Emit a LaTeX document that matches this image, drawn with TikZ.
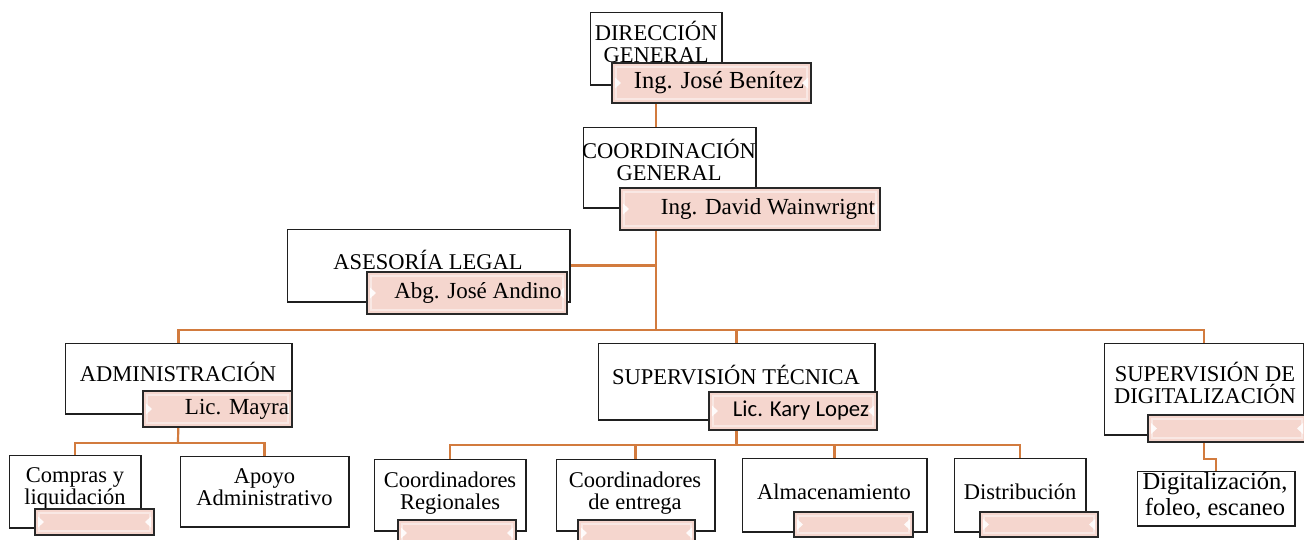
\documentclass[tikz,border=0pt]{standalone}
\usepackage{fontspec}
\setmainfont{Liberation Serif}
\newfontfamily\calibfont{Carlito}
\usetikzlibrary{calc}
\definecolor{link}{RGB}{210,123,62}
\definecolor{platefill}{RGB}{245,214,206}
\definecolor{plateedge}{RGB}{40,40,40}
\tikzset{
  conn/.style={draw=link,line width=2.2pt},
  unitbox/.style={draw=black!88,line width=1.5pt,fill=white,inner sep=0pt},
  plate/.style={draw=plateedge,line width=1.6pt,fill=platefill,inner sep=0pt,
    path picture={
      \draw[white,opacity=.45,line width=2.2pt]
        ([shift={(4pt,-4pt)}]path picture bounding box.north west) rectangle
        ([shift={(-4pt,4pt)}]path picture bounding box.south east);
      \fill[white,opacity=.9]
        ([shift={(3pt,5.5pt)}]path picture bounding box.west) --
        ([shift={(9pt,0pt)}]path picture bounding box.west) --
        ([shift={(3pt,-5.5pt)}]path picture bounding box.west) -- cycle;
      \fill[white,opacity=.9]
        ([shift={(-3pt,5.5pt)}]path picture bounding box.east) --
        ([shift={(-9pt,0pt)}]path picture bounding box.east) --
        ([shift={(-3pt,-5.5pt)}]path picture bounding box.east) -- cycle;
    }},
  ttl/.style={inner sep=0pt,align=center,font=\fontsize{22.5}{22}\selectfont},
  nm/.style={inner sep=0pt,font=\fontsize{23}{23}\selectfont},
}
\begin{document}
\begin{tikzpicture}[x=1pt,y=-1pt]
\useasboundingbox (0,0) rectangle (1304,539);

% ---------- unit frames ----------
\node[unitbox,minimum width=130pt,minimum height=71pt] (dg)   at (656,48.5) {};
\node[unitbox,minimum width=171pt,minimum height=79pt] (cg)   at (669.5,167.5) {};
\node[unitbox,minimum width=281pt,minimum height=71pt] (al)   at (428.5,265.5) {};
\node[unitbox,minimum width=225pt,minimum height=69pt] (adm)  at (178.5,378.5) {};
\node[unitbox,minimum width=275pt,minimum height=75pt] (st)   at (736.5,381.5) {};
\node[unitbox,minimum width=198pt,minimum height=90pt] (sd)   at (1204,389) {};
\node[unitbox,minimum width=130pt,minimum height=71pt] (comp) at (75,491.5) {};
\node[unitbox,minimum width=167pt,minimum height=69pt] (apo)  at (264.5,491.5) {};
\node[unitbox,minimum width=150pt,minimum height=70pt] (cr)   at (450,495) {};
\node[unitbox,minimum width=157pt,minimum height=70pt] (ce)   at (635.5,495) {};
\node[unitbox,minimum width=183pt,minimum height=72pt] (alm)  at (834.5,495) {};
\node[unitbox,minimum width=130pt,minimum height=72pt] (dist) at (1020,495) {};
\node[unitbox,minimum width=156pt,minimum height=53pt] (dig)  at (1216,498.5) {};

% ---------- connectors ----------
\coordinate (trunk) at (656,330);
\coordinate (ajoin) at (178,443);
\coordinate (sjoin) at (736.5,445);
\draw[conn] (dg.south) -- (dg |- cg.north);
\draw[conn] (dg |- cg.south) -- (trunk);
\draw[conn] (al.east) -- (al.east -| trunk);
\draw[conn] (adm.north) |- (trunk) -| (sd.north);
\draw[conn] (st.north) -- (st.north |- trunk);
\draw[conn] (adm.south) -- (ajoin);
\draw[conn] (comp.north) |- (ajoin) -| (apo.north);
\draw[conn] (st.south) -- (sjoin);
\draw[conn] (cr.north) |- (sjoin) -| (dist.north);
\draw[conn] (ce.north) -- (ce.north |- sjoin);
\draw[conn] (alm.north) -- (alm.north |- sjoin);
\draw[conn] (sd.south) -- ++(0,24) -| (dig.north);

% redraw frames over the connector ends
\foreach \n in {dg,cg,al,adm,st,sd,comp,apo,cr,ce,alm,dist,dig}
  \draw[draw=black!88,line width=1.5pt,fill=white] (\n.north west) rectangle (\n.south east);

% ---------- unit titles ----------
\node[ttl] (dgt)   at (656,41.5)  {DIRECCIÓN\\GENERAL};
\node[ttl] (cgt)   at (669,160)   {COORDINACIÓN\\GENERAL};
\node[ttl] (alt)   at (428,259.5) {ASESORÍA LEGAL};
\node[ttl] (admt)  at (178,372)   {ADMINISTRACIÓN};
\node[ttl] (stt)   at (736,375.5) {SUPERVISIÓN TÉCNICA};
\node[ttl] (sdt)   at (1205,383)  {SUPERVISIÓN DE\\DIGITALIZACIÓN};
\node[ttl] (compt) at (75,488)    {Compras y\\liquidación};
\node[ttl] (apot)  at (264.5,487.5) {Apoyo\\Administrativo};
\node[ttl] (crt)   at (450,493)   {Coordinadores\\Regionales};
\node[ttl] (cet)   at (635,493)   {Coordinadores\\de entrega};
\node[ttl] (almt)  at (834,492)   {Almacenamiento};
\node[ttl] (distt) at (1020,492)  {Distribución};
\node[inner sep=0pt,align=center,font=\fontsize{24.5}{26}\selectfont] (digt) at (1215,496)
  {Digitalización,\\foleo, escaneo};

% ---------- name plates ----------
\node[plate,minimum width=199pt,minimum height=40pt] (dgp)   at (711.5,83) {};
\node[plate,minimum width=260pt,minimum height=42pt] (cgp)   at (750,209) {};
\node[plate,minimum width=200pt,minimum height=42pt] (alp)   at (467,293) {};
\node[plate,minimum width=149pt,minimum height=36pt] (admp)  at (217.5,409) {};
\node[plate,minimum width=168pt,minimum height=38pt] (stp)   at (793,411) {};
\node[plate,minimum width=158pt,minimum height=27pt] (sdp)   at (1227,428.5) {};
\node[plate,minimum width=119pt,minimum height=26pt] (compp) at (94.5,522) {};
\node[plate,minimum width=118pt,minimum height=26pt] (crp)   at (457,533) {};
\node[plate,minimum width=117pt,minimum height=26pt] (cep)   at (636.5,533) {};
\node[plate,minimum width=119pt,minimum height=25pt] (almp)  at (853.5,524.5) {};
\node[plate,minimum width=118pt,minimum height=25pt] (distp) at (1039,524.5) {};

% ---------- names ----------
\node[nm,font=\fontsize{24.5}{24.5}\selectfont] (dgn) at (719,83) {Ing. José Benítez};
\node[nm] (cgn)  at (768,209) {Ing. David Wainwrignt};
\node[nm] (aln)  at (478,293) {Abg. José Andino};
\node[nm] (admn) at (237,409) {Lic. Mayra};
\node[nm,font=\calibfont\fontsize{22.7}{22.7}\selectfont] (stn) at (801,411) {Lic. Kary Lopez};
\end{tikzpicture}
\end{document}
